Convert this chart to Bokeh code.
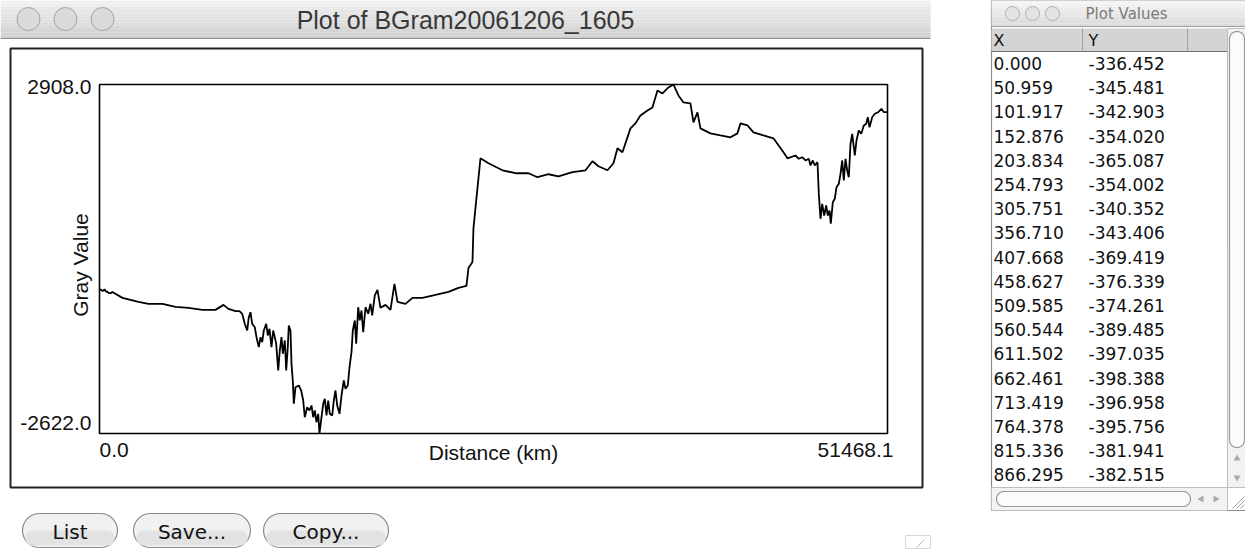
import numpy as np
from bokeh.plotting import figure
from bokeh.models import Range1d
from bokeh.core.properties import value
from bokeh.embed import file_html
from bokeh.resources import INLINE

# ---------------- data ----------------
WINDOW_TITLE = "Plot of BGram20061206_1605"
TABLE_TITLE = "Plot Values"
X_LABEL = "Distance (km)"
Y_LABEL = "Gray Value"
X_MIN, X_MAX = 0.0, 51468.1
Y_MIN, Y_MAX = -2622.0, 2908.0
COL_HEADERS = ["X", "Y"]
BUTTONS = ["List", "Save...", "Copy..."]

TABLE_X = [0.000, 50.959, 101.917, 152.876, 203.834, 254.793, 305.751, 356.710,
           407.668, 458.627, 509.585, 560.544, 611.502, 662.461, 713.419,
           764.378, 815.336, 866.295]
TABLE_Y = [-336.452, -345.481, -342.903, -354.020, -365.087, -354.002, -340.352,
           -343.406, -369.419, -376.339, -374.261, -389.485, -397.035, -398.388,
           -396.958, -395.756, -381.941, -382.515]

TRACE_X = [1502, 2547, 3200, 4115, 4964, 5813, 6727, 7576, 8098, 8425,
           8883, 9144, 9320, 9490, 9647, 9752, 9863, 9974, 10143, 10254,
           10405, 10516, 10627, 10731, 10888, 10992, 11104, 11234, 11345, 11450,
           11541, 11672, 11776, 11887, 11972, 12103, 12194, 12299, 12364, 12475,
           12540, 12625, 12691, 12802, 13017, 13174, 13305, 13409, 13566, 13716,
           13847, 13958, 14062, 14173, 14285, 14369, 14500, 14611, 14716, 14827,
           14938, 15042, 15199, 15304, 15414, 15526, 15676, 15806, 15957, 16067,
           16218, 16329, 16459, 16544, 16675, 16766, 16897, 17001, 17113, 17224,
           17374, 17550, 17700, 17811, 17981,
           18156, 18352, 18679, 19005, 19266, 19462, 19985, 20442, 21095,
           21944, 22793, 23446, 23968, 24099, 24360, 24426, 24687, 24883, 25406,
           26320, 27169, 28018, 28606, 29324, 29977, 30892, 31741, 32198, 32590,
           33177, 33569, 33831, 34157, 34680, 35006, 35333, 35790, 36116, 36443,
           36770, 37161, 37488, 37814, 38141, 38598, 38794, 39055, 39251, 39904,
           40557, 41211, 41668, 41864, 42321, 42713, 43366, 44019, 44345, 44672,
           44933,
           45459, 45675, 45897, 46112, 46328, 46439, 46589, 46720, 46896, 46981,
           47092, 47203, 47334, 47464, 47569, 47680, 47765, 47896, 48026, 48137,
           48288, 48398, 48509, 48614, 48725, 48836, 48941, 49052, 49163, 49333,
           49443, 49594, 49751, 49921, 50077, 50182, 50293, 50469, 50638, 50861,
           51076, 51226, 51383, 51468.1]
TRACE_Y = [-473, -536, -568, -568, -615, -631, -663, -663, -584, -647,
           -684, -684, -725, -884, -990, -779, -700, -884, -938, -1096,
           -1254, -1096, -1175, -990, -884, -1069, -963, -1254, -990, -1096,
           -1201, -1624, -1307, -1096, -1359, -1148, -1624, -1254, -911, -990,
           -1518, -1782, -2151, -1888, -1861, -1941, -2099, -2364, -2205, -2257,
           -2178, -2364, -2257, -2443, -2310, -2622, -2364, -2151, -2072, -2337,
           -2099, -2310, -2337, -2099, -1941, -2178, -2310, -2020, -1782, -1914,
           -1861, -1571, -1334, -990, -831, -1201, -621, -831, -673, -1017,
           -621, -725, -567, -752, -435,
           -347, -631, -584, -663, -252, -536, -568, -473, -473,
           -426, -378, -315, -284, 0, 96, 633, 1265, 1739, 1660,
           1549, 1502, 1502, 1439, 1486, 1454, 1518, 1549, 1691, 1612,
           1549, 1660, 1897, 1834, 2213, 2292, 2418, 2497, 2545, 2813,
           2766, 2861, 2908, 2734, 2624, 2608, 2308, 2466, 2213, 2134,
           2102, 2071, 2134, 2292, 2260, 2150, 2102, 2055, 1944, 1834,
           1739,
           1783, 1731, 1756, 1704, 1731, 1625, 1704, 1625, 1677, 1176,
           780, 1018, 832, 991, 832, 912, 701, 1043, 1097, 1281,
           1335, 1493, 1704, 1387, 1731, 1545, 1439, 1968, 2127, 1783,
           2021, 2179, 2127, 2258, 2285, 2390, 2231, 2390, 2444, 2469,
           2523, 2469, 2469, 2466]

DIST = TABLE_X + TRACE_X
GRAY = TABLE_Y + TRACE_Y

# ---------------- layout (screen pixels of the page) ----------------
PX0, PX1, PY0, PY1 = 0, 1245, 0, 552
BOX_L, BOX_R, BOX_T, BOX_B = 99, 887, 84, 433

SANS = value("Liberation Sans")
UI = value("DejaVu Sans")

p = figure(width=PX1 - PX0, height=PY1 - PY0,
           x_range=Range1d(PX0, PX1), y_range=Range1d(PY1, PY0),
           x_axis_type=None, y_axis_type=None, title=None,
           toolbar_location=None, output_backend="svg", min_border=0)
p.outline_line_color = None
p.background_fill_color = "white"
p.border_fill_color = "white"

kx = (X_MAX - X_MIN) / (BOX_R - BOX_L)
ky = (Y_MAX - Y_MIN) / (BOX_B - BOX_T)
p.extra_x_ranges = {"dx": Range1d(X_MIN - (BOX_L - PX0) * kx, X_MAX + (PX1 - BOX_R) * kx)}
p.extra_y_ranges = {"dy": Range1d(Y_MIN - (PY1 - BOX_B) * ky, Y_MAX + (BOX_T - PY0) * ky)}


def hexmix(c0, c1, t):
    a = [int(c0[i:i + 2], 16) for i in (1, 3, 5)]
    b = [int(c1[i:i + 2], 16) for i in (1, 3, 5)]
    return "#%02x%02x%02x" % tuple(int(round(a[k] + (b[k] - a[k]) * t)) for k in range(3))


def gradient(x0, x1, y0, y1, c0, c1, n=12):
    edges = np.linspace(y0, y1, n + 1)
    p.quad(left=[x0] * n, right=[x1] * n, top=list(edges[:-1]), bottom=list(edges[1:]),
           fill_color=[hexmix(c0, c1, i / (n - 1)) for i in range(n)], line_color=None)


def rrect(x0, x1, y0, y1, r, n=10):
    xs, ys = [], []
    for cx, cy, a0 in [(x1 - r, y0 + r, -90), (x1 - r, y1 - r, 0),
                       (x0 + r, y1 - r, 90), (x0 + r, y0 + r, 180)]:
        t = np.radians(np.linspace(a0, a0 + 90, n))
        xs += list(cx + r * np.cos(t))
        ys += list(cy + r * np.sin(t))
    return xs, ys


# ---------------- left window: title bar ----------------
gradient(0, 930, 0, 38, "#f0f0f0", "#d0d0d0")
p.segment(x0=[0], x1=[930], y0=[38], y1=[38], line_color="#8a8a8a", line_width=1)
p.circle(x=[28, 65, 102], y=[18.5, 18.5, 18.5], radius=11.5,
         fill_color="#dadada", line_color="#a4a4a4", line_width=1)
p.text(x=[465], y=[19], text=[WINDOW_TITLE], text_align="center", text_baseline="middle",
       text_font=SANS, text_font_size="25px", text_color="#383838")

# ---------------- left window: plot panel ----------------
p.quad(left=[10], right=[922], top=[48], bottom=[487], fill_color="white",
       line_color="#222222", line_width=2)

p.line(DIST, GRAY, x_range_name="dx", y_range_name="dy", line_color="black", line_width=1.8)
p.quad(left=[X_MIN], right=[X_MAX], bottom=[Y_MIN], top=[Y_MAX], x_range_name="dx",
       y_range_name="dy", fill_color=None, line_color="black", line_width=1.6)

# y limit labels
p.text(x=[91], y=[Y_MAX], y_range_name="dy", text=[f"{Y_MAX:.1f}"], text_align="right",
       text_baseline="middle", y_offset=2, text_font=SANS, text_font_size="21px", text_color="#111111")
p.text(x=[91], y=[Y_MIN], y_range_name="dy", text=[f"{Y_MIN:.1f}"], text_align="right",
       text_baseline="middle", y_offset=-11, text_font=SANS, text_font_size="21px", text_color="#111111")
# x limit labels
p.text(x=[X_MIN], y=[Y_MIN], x_range_name="dx", y_range_name="dy", text=[f"{X_MIN:.1f}"],
       text_align="left", text_baseline="middle", y_offset=16, text_font=SANS,
       text_font_size="21px", text_color="#111111")
p.text(x=[X_MAX], y=[Y_MIN], x_range_name="dx", y_range_name="dy", text=[f"{X_MAX:.1f}"],
       text_align="right", text_baseline="middle", x_offset=6, y_offset=16, text_font=SANS,
       text_font_size="21px", text_color="#111111")
# axis titles
p.text(x=[(X_MIN + X_MAX) / 2], y=[Y_MIN], x_range_name="dx", y_range_name="dy", text=[X_LABEL],
       text_align="center", text_baseline="middle", y_offset=19, text_font=SANS,
       text_font_size="21px", text_color="#111111")
p.text(x=[80], y=[(Y_MIN + Y_MAX) / 2], y_range_name="dy", text=[Y_LABEL], angle=np.pi / 2,
       text_align="center", text_baseline="middle", y_offset=6, text_font=SANS,
       text_font_size="21px", text_color="#111111")

# ---------------- buttons ----------------
btn_boxes = [(22, 117), (133, 250), (263, 388)]
bx, by = [], []
for x0, x1 in btn_boxes:
    xs, ys = rrect(x0, x1, 513, 547, 17)
    bx.append(xs)
    by.append(ys)
p.patches(bx, by, fill_color="#f1f1f1", line_color="#8c8c8c", line_width=1.2)
bx2, by2 = [], []
for x0, x1 in btn_boxes:
    xs, ys = rrect(x0 + 3, x1 - 3, 530, 545, 7)
    bx2.append(xs)
    by2.append(ys)
p.patches(bx2, by2, fill_color="#e2e2e2", line_color=None)
p.text(x=[(a + b) / 2 for a, b in btn_boxes], y=[531] * 3, text=BUTTONS, text_align="center",
       text_baseline="middle", text_font=UI, text_font_size="20px", text_color="#111111")
# resize grip of plot window
p.quad(left=[905], right=[930], top=[535], bottom=[548], fill_color=None, line_color="#d8d8d8")
p.segment(x0=[916], y0=[547], x1=[924], y1=[539], line_color="#b8b8b8")

# ---------------- right window: Plot Values table ----------------
p.quad(left=[991], right=[1250], top=[0], bottom=[510], fill_color="white",
       line_color="#8c8c8c", line_width=1.2)
gradient(991, 1250, 0, 26, "#f4f4f4", "#dcdcdc", n=8)
p.segment(x0=[991], x1=[1250], y0=[26], y1=[26], line_color="#9c9c9c")
p.circle(x=[1012, 1032, 1052], y=[13, 13, 13], radius=7,
         fill_color="#e4e4e4", line_color="#b0b0b0", line_width=1)
p.text(x=[1085], y=[13], text=[TABLE_TITLE], text_align="left", text_baseline="middle",
       text_font=UI, text_font_size="15px", text_color="#7a7a7a")

# header
p.quad(left=[991], right=[1227], top=[28], bottom=[51], fill_color="#d4d4d4", line_color=None)
p.segment(x0=[991], x1=[1227], y0=[51], y1=[51], line_color="#6f6f6f")
p.segment(x0=[1082, 1187], x1=[1082, 1187], y0=[28, 28], y1=[51, 51], line_color="#a0a0a0")
p.text(x=[993, 1088], y=[40, 40], text=COL_HEADERS, text_align="left", text_baseline="middle",
       text_font=UI, text_font_size="16px", text_color="#111111")

# rows
row_y = [63 + 24.2 * i for i in range(len(TABLE_X))]
p.text(x=[993] * len(TABLE_X), y=row_y, text=[f"{v:.3f}" for v in TABLE_X], text_align="left",
       text_baseline="middle", text_font=UI, text_font_size="17px", text_color="#111111")
p.text(x=[1088] * len(TABLE_Y), y=row_y, text=[f"{v:.3f}" for v in TABLE_Y], text_align="left",
       text_baseline="middle", text_font=UI, text_font_size="17px", text_color="#111111")

# vertical scrollbar
p.quad(left=[1227], right=[1250], top=[28], bottom=[487], fill_color="#f2f2f2",
       line_color="#bdbdbd", line_width=1)
vx, vy = rrect(1229, 1244, 31, 447, 7.5)
p.patch(vx, vy, fill_color="#fbfbfb", line_color="#9a9a9a", line_width=1.2)
p.scatter(x=[1236.5], y=[458], marker="triangle", size=7, fill_color="#a8a8a8", line_color=None)
p.scatter(x=[1236.5], y=[477], marker="inverted_triangle", size=7, fill_color="#a8a8a8", line_color=None)

# horizontal scrollbar
p.quad(left=[991], right=[1227], top=[487], bottom=[510], fill_color="#f2f2f2",
       line_color="#bdbdbd", line_width=1)
hx, hy = rrect(996, 1190, 491, 506, 7.5)
p.patch(hx, hy, fill_color="#fbfbfb", line_color="#9a9a9a", line_width=1.2)
p.scatter(x=[1201], y=[498.5], marker="triangle", angle=np.pi / 2, size=7,
          fill_color="#a8a8a8", line_color=None)
p.scatter(x=[1215], y=[498.5], marker="triangle", angle=-np.pi / 2, size=7,
          fill_color="#a8a8a8", line_color=None)
p.segment(x0=[1232, 1236, 1240], y0=[508, 508, 508], x1=[1244, 1244, 1244], y1=[496, 500, 504],
          line_color="#a0a0a0", line_width=1)

open("out.html", "w").write(file_html(p, INLINE))
